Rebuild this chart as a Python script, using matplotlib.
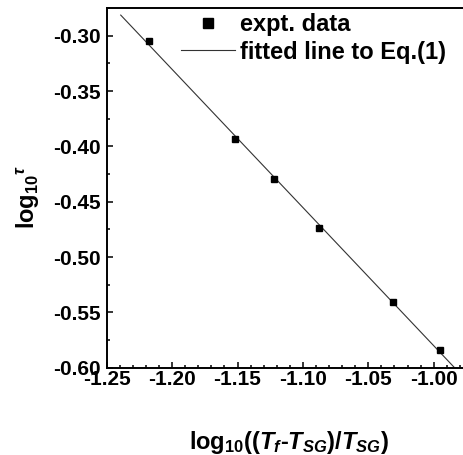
import numpy as np
import matplotlib
matplotlib.use("Agg")
import matplotlib.pyplot as plt
from matplotlib.ticker import MultipleLocator, FormatStrFormatter

# measured points: log10((Tf - TSG)/TSG) vs log10(tau)
x_data = [-1.2177, -1.1517, -1.1219, -1.0875, -1.0313, -0.9950]
y_data = [-0.3048, -0.3932, -0.4293, -0.4737, -0.5403, -0.5840]
fit_range = [-1.2393, -0.9845]

plt.rcParams.update({
    "font.family": "Liberation Sans",
    "font.weight": "bold",
    "mathtext.fontset": "custom",
    "mathtext.rm": "Liberation Sans:bold",
    "mathtext.it": "Liberation Sans:bold:italic",
    "mathtext.bf": "Liberation Sans:bold",
})

fig = plt.figure(figsize=(4.63, 4.55), dpi=100)
ax = fig.add_axes([0.2305, 0.1919, 0.7768, 0.7905])

slope, intercept = np.polyfit(x_data, y_data, 1)
xf = np.array(fit_range)
ax.plot(xf, slope * xf + intercept, color="#333333", lw=0.8,
        label="fitted line to Eq.(1)")
ax.plot(x_data, y_data, ls="none", marker="s", ms=4.2, color="black",
        label="expt. data")

ax.set_xlim(-1.25, -0.975)
ax.set_ylim(-0.60, -0.275)

ax.xaxis.set_major_locator(MultipleLocator(0.05))
ax.xaxis.set_minor_locator(MultipleLocator(0.01))
ax.yaxis.set_major_locator(MultipleLocator(0.05))
ax.yaxis.set_minor_locator(MultipleLocator(0.025))
ax.xaxis.set_major_formatter(FormatStrFormatter("%.2f"))
ax.yaxis.set_major_formatter(FormatStrFormatter("%.2f"))

ax.tick_params(which="both", direction="in", width=1.1, labelsize=15)
ax.tick_params(which="major", length=4)
ax.tick_params(which="minor", length=2.2)
ax.tick_params(axis="x", pad=2)
ax.tick_params(axis="y", pad=4)
for lab in ax.get_xticklabels() + ax.get_yticklabels():
    lab.set_fontweight("bold")

for s in ax.spines.values():
    s.set_linewidth(1.4)
ax.spines["right"].set_visible(False)

fig.text(289 / 463, 1 - 442 / 455, r"log$_{10}$(($T_f$-$T_{SG}$)/$T_{SG}$)",
         ha="center", va="center", fontsize=17, fontweight="bold")
fig.text(28 / 463, 1 - 197 / 455, r"log$_{10}{}^{\tau}$", rotation=90,
         ha="center", va="center", fontsize=17, fontweight="bold")

handles, labels = ax.get_legend_handles_labels()
leg = ax.legend(handles[::-1], labels[::-1], loc="upper left",
                bbox_to_anchor=(181 / 463, 1 - 13 / 455),
                bbox_transform=fig.transFigure, frameon=False,
                prop={"size": 17, "weight": "bold"}, handlelength=2.3,
                handletextpad=0.2, labelspacing=0.2, borderpad=0,
                borderaxespad=0, markerscale=1.7)

fig.savefig("out.png", dpi=100)
